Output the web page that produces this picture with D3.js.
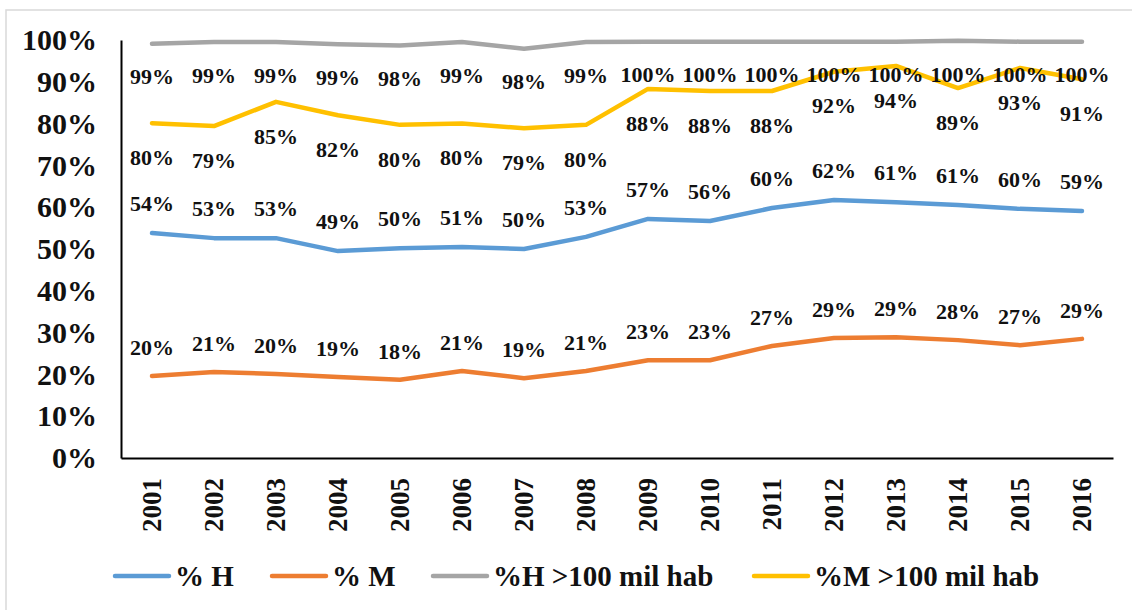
<!DOCTYPE html>
<html>
<head>
<meta charset="utf-8">
<script src="https://cdn.jsdelivr.net/npm/d3@7"></script>
<style>
  body { margin: 0; background: #fff; }
  svg text { font-family: "Liberation Serif", "Times New Roman", serif; font-weight: bold; fill: #111; }
</style>
</head>
<body>
<svg id="chart" width="1132" height="610"></svg>
<script>
// years on the x axis
let years = ["2001","2002","2003","2004","2005","2006","2007","2008",
             "2009","2010","2011","2012","2013","2014","2015","2016"];

// series values (%)
let pctH = [53.8, 52.6, 52.6, 49.5, 50.2, 50.5, 50.0, 52.9, 57.2, 56.7, 59.8, 61.7, 61.2, 60.5, 59.6, 59.1];
let pctM = [19.6, 20.6, 20.1, 19.4, 18.7, 20.8, 19.1, 20.8, 23.4, 23.4, 26.8, 28.7, 28.9, 28.2, 27.0, 28.5];
let pctHBig = [99.1, 99.5, 99.5, 99.0, 98.7, 99.5, 97.9, 99.5, 99.6, 99.6, 99.6, 99.6, 99.6, 99.8, 99.6, 99.6];
let pctMBig = [80.1, 79.4, 85.2, 82.0, 79.7, 80.0, 78.9, 79.7, 88.3, 87.8, 87.8, 92.4, 93.8, 88.5, 93.3, 90.6];

// labels shown on the chart
let labH = [54, 53, 53, 49, 50, 51, 50, 53, 57, 56, 60, 62, 61, 61, 60, 59];
let labM = [20, 21, 20, 19, 18, 21, 19, 21, 23, 23, 27, 29, 29, 28, 27, 29];
let labHBig = [99, 99, 99, 99, 98, 99, 98, 99, 100, 100, 100, 100, 100, 100, 100, 100];
let labMBig = [80, 79, 85, 82, 80, 80, 79, 80, 88, 88, 88, 92, 94, 89, 93, 91];

let yTicks = [0, 10, 20, 30, 40, 50, 60, 70, 80, 90, 100];

let seriesNames = ["% H", "% M", "%H >100 mil hab", "%M >100 mil hab"];

let series = [
  { name: seriesNames[0], values: pctH, labels: labH, color: "#5B9BD5", off: -30 },
  { name: seriesNames[1], values: pctM, labels: labM, color: "#ED7D31", off: -29 },
  { name: seriesNames[2], values: pctHBig, labels: labHBig, color: "#A5A5A5", off: 33 },
  { name: seriesNames[3], values: pctMBig, labels: labMBig, color: "#FFC000", off: 34 }
];

let svg = d3.select("#chart");

// light outer frame
svg.append("rect")
    .attr("x", 6).attr("y", 10)
    .attr("width", 1140).attr("height", 620)
    .attr("fill", "none")
    .attr("stroke", "#d9d9d9")
    .attr("stroke-width", 1.5);

let xScale = d3.scaleBand().domain(years).range([121, 1113]);
let yScale = d3.scaleLinear().domain([0, 100]).range([458, 40]);

// y axis
let yAxis = svg.append("g")
    .attr("transform", "translate(121,0)")
    .call(d3.axisLeft(yScale).tickValues(yTicks).tickSize(0).tickPadding(24).tickFormat(d => d + "%"));
yAxis.attr("font-family", null);
yAxis.select(".domain").attr("stroke", "#000").attr("stroke-width", 2);
yAxis.selectAll("text").style("font-size", "30px").attr("fill", "#111");

// x axis
let xAxis = svg.append("g")
    .attr("transform", "translate(0,458)")
    .call(d3.axisBottom(xScale).tickSize(0).tickPadding(0));
xAxis.attr("font-family", null);
xAxis.select(".domain").attr("stroke", "#000").attr("stroke-width", 2);
xAxis.selectAll("text")
    .style("font-size", "27px")
    .attr("fill", "#111")
    .attr("text-anchor", "end")
    .attr("transform", "rotate(-90)")
    .attr("x", -20)
    .attr("y", 0)
    .attr("dy", "0.35em");

// lines
let line = d3.line()
    .x((d, i) => xScale(years[i]) + xScale.bandwidth() / 2)
    .y(d => yScale(d));

for (let s of series) {
  svg.append("path")
      .datum(s.values)
      .attr("d", line)
      .attr("fill", "none")
      .attr("stroke", s.color)
      .attr("stroke-width", 4.5)
      .attr("stroke-linejoin", "round")
      .attr("stroke-linecap", "round");
}

// data labels
for (let s of series) {
  svg.append("g").selectAll("text")
      .data(s.values)
      .join("text")
      .attr("x", (d, i) => xScale(years[i]) + xScale.bandwidth() / 2)
      .attr("y", d => yScale(d) + s.off)
      .attr("dy", "0.35em")
      .attr("text-anchor", "middle")
      .style("font-size", "22px")
      .text((d, i) => s.labels[i] + "%");
}

// legend
let legendX = [115, 272, 433, 754];
let legend = svg.append("g");
series.forEach((s, i) => {
  let g = legend.append("g").attr("transform", `translate(${legendX[i]},576)`);
  g.append("line")
      .attr("x1", 0).attr("x2", 54)
      .attr("stroke", s.color)
      .attr("stroke-width", 4.5)
      .attr("stroke-linecap", "round");
  g.append("text")
      .attr("x", 60)
      .attr("dy", "0.35em")
      .style("font-size", "29px")
      .text(s.name);
});
</script>
</body>
</html>
